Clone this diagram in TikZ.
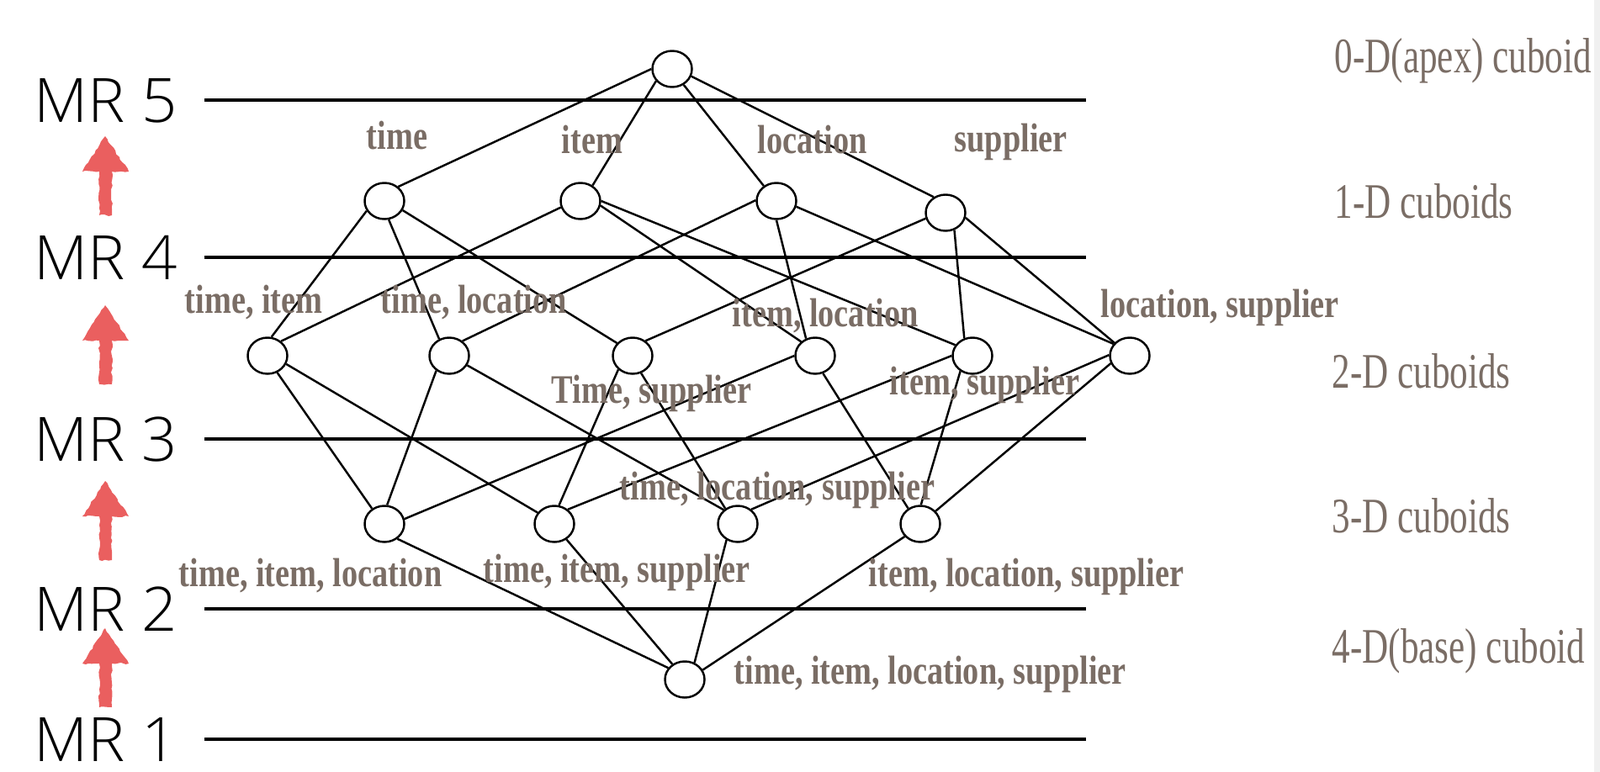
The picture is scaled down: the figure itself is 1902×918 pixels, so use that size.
\documentclass[tikz,border=0pt]{standalone}
\usepackage{fontspec}
\setmainfont{Liberation Sans}
\newfontfamily\mrfont[FakeStretch=1.02]{Open Sans Light}
\newfontfamily\namefont[FakeStretch=0.795]{Liberation Serif}
\newfontfamily\dimfont[FakeStretch=0.73]{Liberation Serif}
\usetikzlibrary{shapes.geometric,decorations.pathmorphing}
\definecolor{LatticeInk}{HTML}{000000}
\definecolor{LatticeTag}{HTML}{7A6D65}
\definecolor{LatticeRed}{HTML}{EA5F5F}
\definecolor{LatticeEdge}{HTML}{F0F0F0}
\tikzset{
  cuboid/.style={draw=LatticeInk, line width=0.7pt, fill=white, shape=ellipse, inner sep=0pt, minimum width=0.47cm, minimum height=0.43cm},
  link/.style={draw=LatticeInk, line width=0.7pt},
  level/.style={draw=LatticeInk, line width=1.15pt},
  mrtag/.style={anchor=base west, inner sep=0pt, font=\mrfont\fontsize{20.7}{24}\selectfont, text=LatticeInk},
  nametag/.style={anchor=base west, inner sep=0pt, font=\namefont\bfseries\fontsize{13.7}{16}\selectfont, text=LatticeTag},
  dimtag/.style={anchor=base west, inner sep=0pt, font=\dimfont\fontsize{16.8}{20}\selectfont, text=LatticeTag},
  sketch/.style={fill=LatticeRed, decorate, decoration={random steps, segment length=1.2pt, amplitude=0.3pt}},
}
\begin{document}
\begin{tikzpicture}[x=0.01cm, y=-0.01cm]
  \useasboundingbox (0,0) rectangle (1902,918);
  \fill[LatticeEdge] (1895,0) rectangle (1902,918);
  % Levels
  \foreach \n/\y in {5/119, 4/306, 3/522, 2/724, 1/879} {
    \node[mrtag] (mr\n) at (40,\y+26) {MR \n};
    \coordinate (lvl\n a) at (243,\y);
    \coordinate (lvl\n b) at (1291,\y);
    \draw[level] (lvl\n a) -- (lvl\n b);
  }
  % Red arrows
  \foreach \t in {162, 363, 572, 747} {
    \fill[sketch] (125,\t) -- (153,\t+42) -- (133,\t+42) -- (133,\t+94)
      -- (118,\t+94) -- (118,\t+42) -- (98,\t+42) -- cycle;
  }
  % Cuboids
  \foreach \name/\x/\y in {apex/799/82,
      time/457/239, item/690/239, loc/923/239, sup/1124/253,
      ti/318/423, tl/534/423, ts/752/423, il/969/423, is/1156/423, ls/1343/423,
      til/457/623, tis/659/623, tls/877/623, ils/1094/623,
      base/814/808} {
    \node[cuboid] (\name) at (\x,\y) {};
  }
  % Lattice edges
  \foreach \a/\b in {apex.180/time.46, apex.217/item.52, apex.306/loc.130, apex.339/sup.127,
      time.209/ti.78, time.283/tl.121, time.333/ts.141,
      item.198/ti.47, item.347/il.135, item.0/is.148,
      loc.178/tl.48, loc.270/il.118, loc.344/ls.144,
      sup.196/ts.49, sup.297/is.115, sup.346/ls.140,
      ti.300/til.129, ti.336/tis.146, tl.229/til.82, tl.332/tls.135,
      ts.224/tis.76, ts.296/tls.129, il.180/til.14, il.294/ils.128,
      is.180/tis.47, is.232/ils.88, ls.178/tls.47, ls.202/ils.40,
      til.311/base.145, tis.308/base.129, tls.235/base.60, ils.219/base.28} {
    \draw[link] (\a) -- (\b);
  }
  % Names of the cuboids
  \node[nametag] (ntime) at (435,177) {time};
  \node[nametag] (nitem) at (667,182) {item};
  \node[nametag] (nloc) at (900,182) {location};
  \node[nametag] (nsup) at (1134,180) {supplier};
  \node[nametag] (nti) at (219,372) {time, item};
  \node[nametag] (ntl) at (452,372) {time, location};
  \node[nametag] (nil) at (870,388) {item, location};
  \node[nametag] (nls) at (1308,377) {location, supplier};
  \node[nametag] (nts) at (655,479) {Time, supplier};
  \node[nametag] (nis) at (1057,469) {item, supplier};
  \node[nametag] (ntls) at (736,594) {time, location, supplier};
  \node[nametag] (ntil) at (212,697) {time, item, location};
  \node[nametag] (ntis) at (574,692) {time, item, supplier};
  \node[nametag] (nils) at (1032,697) {item, location, supplier};
  \node[nametag] (nbase) at (872,813) {time, item, location, supplier};
  % Dimensions on the right
  \node[dimtag] (dim0) at (1586,86) {0-D(apex) cuboid};
  \node[dimtag] (dim1) at (1586,259) {1-D cuboids};
  \node[dimtag] (dim2) at (1583,461) {2-D cuboids};
  \node[dimtag] (dim3) at (1583,633) {3-D cuboids};
  \node[dimtag] (dim4) at (1583,788) {4-D(base) cuboid};
\end{tikzpicture}
\end{document}
